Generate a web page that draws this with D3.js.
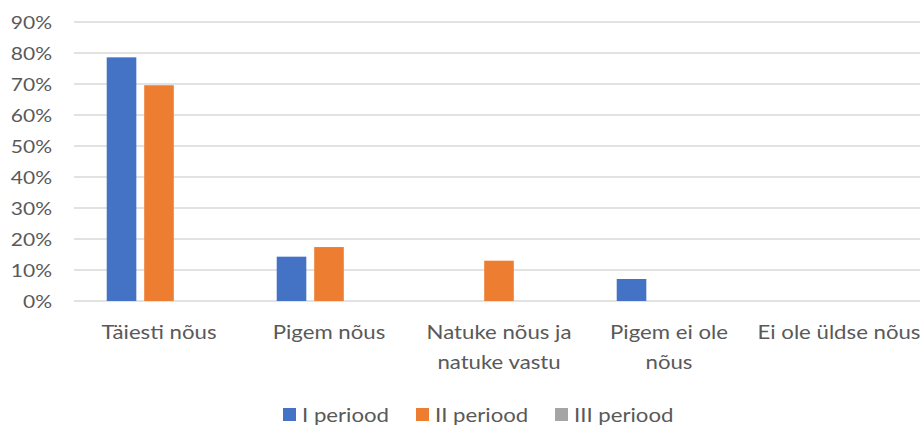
<!DOCTYPE html>
<html><head><meta charset="utf-8">
<script src="https://cdn.jsdelivr.net/npm/d3@7"></script>
<style>body{margin:0;background:#fff}svg{display:block;font-family:Lato,"Open Sans",sans-serif}</style>
</head><body><svg id="c" width="924" height="425"></svg>
<script>
const categories = [["Täiesti nõus"],["Pigem nõus"],["Natuke nõus ja","natuke vastu"],["Pigem ei ole","nõus"],["Ei ole üldse nõus"]];
const seriesNames = ["I periood","II periood","III periood"];
const seriesColors = ["#4472C4","#ED7D31","#A5A5A5"];
const s1 = [0.786, 0.143, 0, 0.071, 0];
const s2 = [0.696, 0.174, 0.130, 0, 0];
const s3 = [0, 0, 0, 0, 0];
const yTicks = [0,0.1,0.2,0.3,0.4,0.5,0.6,0.7,0.8,0.9];

const series = [s1,s2,s3];
const SX = 1.2; // horizontal text stretch
const svg = d3.select("#c");
const m = {left:74, right:0, top:22, bottom:124};
const W = 924, H = 425;
const x = d3.scaleBand().domain(d3.range(categories.length)).range([m.left, W-m.right]);
const y = d3.scaleLinear().domain([0,0.9]).range([H-m.bottom, m.top]);
const xs = d3.scaleBand().domain(d3.range(series.length)).range([0, x.bandwidth()]).paddingInner(0.21).paddingOuter(0.873);

// grid
svg.append("g").selectAll("line").data(yTicks).join("line")
  .attr("x1", m.left).attr("x2", W-4)
  .attr("y1", d=>y(d)).attr("y2", d=>y(d))
  .attr("stroke","#d9d9d9").attr("stroke-width",1.5);

// y axis labels
const yAxis = d3.axisLeft(y).tickValues(yTicks).tickFormat(d3.format(".0%")).tickSize(0).tickPadding(22);
const ga = svg.append("g").attr("transform",`translate(${m.left},0)`).call(yAxis);
ga.select(".domain").remove();
ga.selectAll("text").attr("fill","#595959").style("font-size","17.5px").style("font-family","Lato")
  .attr("x",0).attr("dy","0.36em").attr("transform",`translate(-22,0) scale(${SX},1)`);

// bars
series.forEach((s,i)=>{
  svg.append("g").selectAll("rect").data(s).join("rect")
    .attr("x",(d,j)=>x(j)+xs(i)).attr("width",xs.bandwidth())
    .attr("y",d=>y(d)).attr("height",d=>y(0)-y(d))
    .attr("fill",seriesColors[i]);
});

// category labels
const gl = svg.append("g");
categories.forEach((lines,j)=>{
  lines.forEach((ln,k)=>{
    gl.append("g").attr("transform",`translate(${x(j)+x.bandwidth()/2},${339+k*29.5}) scale(${SX},1)`)
      .append("text").attr("text-anchor","middle").attr("fill","#595959").style("font-size","18.5px").text(ln);
  });
});

// legend
const legX = [283, 416, 555];
const lg = svg.append("g");
seriesNames.forEach((n,i)=>{
  lg.append("rect").attr("x",legX[i]).attr("y",408).attr("width",13).attr("height",13).attr("fill",seriesColors[i]);
  lg.append("g").attr("transform",`translate(${legX[i]+19},422) scale(${SX},1)`)
    .append("text").attr("fill","#595959").style("font-size","18.5px").text(n);
});
</script></body></html>
